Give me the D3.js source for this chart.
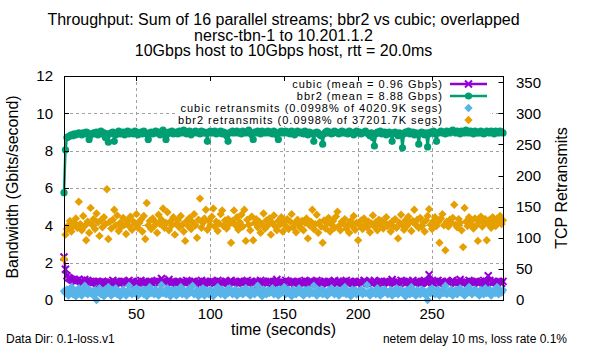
<!DOCTYPE html>
<html>
<head>
<meta charset="utf-8">
<script src="https://cdn.jsdelivr.net/npm/d3@7"></script>
<style>
  body { margin: 0; background: #fff; }
  svg { display: block; font-family: "Liberation Sans", Arial, sans-serif; }
</style>
</head>
<body>
<svg id="chart" width="600" height="350"></svg>
<script>
// ---- data ----
const titleLines = [
    "Throughput: Sum of 16 parallel streams; bbr2 vs cubic; overlapped",
    "nersc-tbn-1 to 10.201.1.2",
    "10Gbps host to 10Gbps host, rtt = 20.0ms"
];
const legendLabels = [
    "cubic (mean = 0.96 Gbps)",
    "bbr2 (mean = 8.88 Gbps)",
    "cubic retransmits (0.0998% of 4020.9K segs)",
    "bbr2 retransmits (0.0998% of 37201.7K segs)"
];
const xTicks = [50, 100, 150, 200, 250];
const yTicks = [0, 2, 4, 6, 8, 10, 12];
const y2Ticks = [0, 50, 100, 150, 200, 250, 300, 350];

// one sample per second, t = 1 .. 298
const seconds = d3.range(1, 299);

// cubic throughput, Gbits/s
const cubicGbps = [
    2.3, 1.65, 1.3, 1.2, 1.15, 1.1, 1.05, 1.1, 1.0, 1.05, 1.1, 1.0, 1.05, 0.95, 1.1, 1.0, 1.05, 0.95, 1.0, 0.9,
    1.0, 0.95, 0.9, 1.0, 0.85, 0.95, 1.0, 0.9, 0.95, 0.85, 1.0, 0.95, 0.9, 1.05, 0.95, 0.9, 1.0, 0.95, 0.85, 1.0,
    0.95, 1.0, 0.9, 0.95, 1.05, 0.9, 0.95, 1.0, 0.85, 0.95, 1.0, 0.9, 1.05, 0.95, 0.9, 1.0, 0.95, 0.9, 1.0, 0.95,
    0.9, 1.0, 0.95, 1.05, 0.9, 0.95, 1.15, 1.0, 0.95, 0.9, 1.0, 1.1, 0.95, 0.9, 1.0, 0.95, 0.85, 1.0, 0.95, 0.9,
    1.0, 0.95, 0.9, 1.05, 0.95, 1.0, 0.9, 0.95, 1.0, 0.85, 0.95, 1.0, 0.9, 1.05, 0.95, 0.9, 1.0, 0.95, 0.9, 1.0,
    0.95, 1.0, 0.9, 0.95, 1.05, 0.9, 1.0, 0.95, 0.85, 1.0, 0.95, 0.9, 1.0, 1.05, 0.95, 0.9, 1.0, 0.95, 0.9, 1.0,
    0.95, 0.9, 1.0, 0.95, 1.05, 0.9, 0.95, 1.0, 0.9, 0.95, 1.0, 0.85, 0.95, 1.05, 0.9, 1.0, 0.95, 0.9, 1.0, 0.95,
    1.0, 0.9, 0.95, 1.0, 1.1, 0.95, 0.9, 1.0, 0.95, 0.9, 1.05, 0.95, 1.0, 0.9, 0.95, 1.0, 0.85, 0.95, 1.0, 0.9,
    0.95, 1.0, 0.9, 1.05, 0.95, 0.9, 1.0, 0.95, 1.0, 0.9, 0.95, 1.05, 0.9, 1.0, 0.95, 0.9, 1.0, 0.95, 0.85, 1.0,
    0.95, 0.9, 1.0, 1.05, 0.95, 0.9, 1.0, 0.95, 0.9, 1.0, 0.95, 1.05, 0.9, 0.95, 1.0, 0.9, 0.95, 1.0, 0.9, 0.95,
    1.0, 0.95, 0.9, 1.05, 1.0, 0.9, 0.95, 1.0, 0.9, 0.95, 1.05, 0.95, 0.9, 1.0, 0.95, 1.0, 0.9, 0.95, 1.0, 0.9,
    0.95, 1.0, 1.1, 0.95, 0.9, 1.0, 0.95, 0.9, 1.05, 0.95, 1.0, 0.9, 0.95, 1.0, 0.9, 0.95, 1.05, 0.95, 0.9, 1.0,
    0.95, 0.9, 1.0, 0.95, 1.05, 0.95, 0.9, 1.35, 1.0, 0.95, 0.9, 1.0, 0.95, 1.05, 0.9, 0.95, 1.0, 0.9, 0.95, 1.0,
    0.95, 0.9, 1.0, 1.05, 0.95, 0.9, 1.0, 0.95, 1.1, 0.95, 0.9, 1.0, 0.95, 0.9, 1.05, 0.95, 1.0, 0.9, 0.95, 1.0,
    0.9, 0.95, 1.0, 0.95, 1.05, 0.9, 1.0, 1.3, 1.05, 0.95, 0.9, 1.0, 0.95, 0.9, 1.0, 0.95, 0.9, 1.0
];

// bbr2 throughput, Gbits/s
const bbr2Gbps = [
    5.75, 8.05, 8.7, 8.75, 8.8, 8.85, 8.8, 8.9, 8.85, 8.9, 8.95, 8.9, 8.85, 8.95, 8.9, 9.0, 8.95, 8.6, 8.85, 8.9,
    8.95, 8.9, 9.0, 8.85, 8.95, 9.05, 8.9, 8.95, 8.7, 8.9, 8.45, 8.9, 8.95, 9.0, 8.5, 8.85, 8.95, 9.05, 8.9, 8.95,
    9.0, 8.85, 8.95, 9.05, 8.9, 9.0, 8.95, 8.9, 9.05, 9.0, 8.85, 8.95, 9.0, 8.9, 9.05, 8.95, 8.9, 8.6, 8.95, 9.0,
    8.9, 8.95, 9.05, 8.95, 9.0, 8.85, 8.9, 9.1, 8.95, 8.6, 8.9, 9.0, 8.95, 9.05, 8.9, 8.95, 9.0, 8.9, 9.05, 8.95,
    9.0, 9.1, 8.95, 8.9, 9.0, 9.05, 8.85, 8.95, 9.0, 9.05, 8.95, 9.0, 8.9, 9.05, 8.95, 9.0, 8.95, 8.5, 9.0, 9.05,
    8.95, 9.0, 9.05, 8.9, 9.0, 8.95, 9.05, 8.9, 9.0, 8.95, 8.8, 8.5, 8.95, 9.0, 9.05, 8.95, 9.0, 9.05, 8.95, 9.0,
    8.9, 9.05, 9.0, 8.95, 9.0, 9.1, 8.95, 8.85, 8.6, 9.0, 8.95, 9.05, 9.0, 8.9, 9.05, 9.0, 8.95, 9.0, 9.05, 8.95,
    9.0, 8.9, 9.05, 8.95, 8.85, 8.6, 9.0, 9.05, 8.95, 9.0, 9.05, 8.95, 9.0, 8.9, 9.05, 9.0, 8.85, 8.95, 9.05, 9.0,
    8.95, 9.0, 8.9, 9.05, 8.95, 8.85, 9.0, 8.95, 8.9, 8.5, 8.95, 9.0, 8.95, 8.85, 8.8, 8.35, 8.9, 9.0, 9.05, 8.95,
    9.0, 8.9, 8.95, 9.05, 9.0, 8.95, 8.9, 9.0, 9.05, 8.95, 9.0, 8.95, 8.9, 9.05, 9.0, 8.95, 8.85, 9.0, 9.05, 8.95,
    9.0, 8.9, 8.95, 9.0, 9.05, 8.95, 8.9, 8.8, 8.95, 8.7, 8.25, 8.9, 9.0, 8.95, 9.05, 8.9, 8.95, 9.0, 8.85, 8.95,
    9.0, 8.9, 8.5, 8.95, 9.0, 8.9, 8.8, 8.95, 8.85, 8.15, 8.9, 9.0, 8.95, 9.05, 8.9, 8.95, 9.0, 8.85, 8.95, 8.9,
    8.35, 8.95, 9.0, 8.9, 8.85, 8.95, 8.2, 8.9, 9.0, 8.95, 9.05, 8.9, 8.5, 8.95, 9.0, 9.05, 8.95, 9.0, 8.9, 9.05,
    9.0, 8.95, 9.05, 9.1, 9.0, 8.95, 9.05, 9.0, 8.9, 9.05, 9.0, 8.95, 9.1, 9.0, 8.95, 9.05, 9.0, 8.9, 9.05, 8.95,
    9.0, 8.95, 9.05, 9.0, 8.9, 8.95, 9.05, 9.0, 8.95, 9.05, 9.0, 8.9, 9.05, 9.0, 8.95, 9.05, 9.0, 8.95
];

// retransmits per second (right axis)
const cubicRetrans = [
    14, 11, 17, 7, 12, 21, 9, 16, 6, 14, 19, 11, 7, 16, 23, 12, 9, 17, 11, 14,
    7, 16, 0, 12, 19, 9, 14, 6, 17, 11, 21, 12, 7, 16, 11, 19, 9, 14, 6, 12,
    17, 11, 7, 14, 23, 12, 9, 16, 11, 19, 7, 14, 12, 17, 9, 16, 6, 12, 21, 11,
    14, 9, 17, 12, 7, 16, 24, 11, 14, 9, 19, 12, 6, 16, 11, 17, 7, 14, 12, 21,
    9, 16, 12, 7, 17, 11, 14, 23, 9, 12, 16, 6, 14, 11, 19, 7, 16, 12, 9, 17,
    12, 6, 16, 11, 21, 14, 9, 17, 12, 7, 16, 11, 19, 14, 9, 12, 17, 7, 14, 11,
    16, 9, 12, 19, 11, 14, 7, 17, 12, 9, 16, 23, 11, 14, 6, 17, 12, 9, 16, 11,
    14, 19, 9, 12, 16, 7, 17, 11, 14, 21, 9, 12, 16, 11, 6, 17, 14, 9, 12, 19,
    11, 14, 7, 16, 12, 17, 9, 14, 11, 23, 12, 7, 16, 11, 17, 9, 14, 12, 7, 16,
    11, 19, 12, 9, 14, 17, 7, 12, 16, 11, 21, 9, 14, 12, 6, 17, 11, 16, 9, 14,
    12, 17, 9, 14, 11, 24, 12, 7, 16, 11, 14, 9, 19, 12, 7, 16, 11, 17, 14, 9,
    12, 16, 7, 14, 11, 19, 9, 12, 17, 11, 14, 6, 16, 12, 9, 21, 11, 14, 7, 16,
    12, 9, 17, 11, 14, 7, 0, 16, 11, 19, 12, 9, 14, 17, 7, 12, 16, 11, 23, 9,
    14, 11, 17, 7, 12, 16, 9, 14, 19, 11, 12, 7, 16, 11, 21, 14, 9, 12, 17, 11,
    14, 7, 16, 12, 9, 19, 11, 14, 17, 7, 12, 16, 11, 21, 9, 14, 12, 16
];

const bbr2Retrans = [
    66, 105, 114, 120, 127, 110, 118, 124, 131, 116, 158, 122, 112, 135, 119, 96, 126, 108, 148, 121,
    130, 114, 139, 125, 103, 128, 117, 133, 122, 178, 98, 126, 115, 129, 145, 120, 136, 111, 124, 118,
    132, 121, 106, 127, 119, 134, 113, 126, 122, 138, 116, 124, 129, 110, 135, 98, 156, 120, 127, 114,
    131, 119, 125, 108, 137, 122, 129, 147, 116, 124, 141, 112, 126, 120, 133, 105, 122, 128, 117, 135,
    121, 110, 95, 127, 119, 132, 114, 125, 138, 120, 100, 129, 163, 116, 124, 131, 145, 113, 127, 120,
    134, 147, 118, 126, 111, 123, 138, 144, 119, 128, 115, 130, 122, 92, 127, 144, 120, 133, 113, 125,
    137, 118, 145, 95, 129, 121, 112, 134, 96, 124, 130, 117, 126, 108, 122, 139, 115, 128, 120, 131,
    105, 124, 136, 118, 112, 127, 121, 133, 110, 125, 119, 130, 114, 126, 138, 117, 123, 109, 129, 121,
    116, 127, 112, 124, 131, 99, 120, 126, 145, 114, 122, 137, 108, 125, 118, 92, 128, 115, 123, 132,
    110, 121, 127, 116, 134, 142, 119, 112, 126, 123, 130, 115, 121, 108, 127, 119, 135, 113, 124, 96,
    120, 128, 114, 131, 122, 117, 126, 109, 123, 136, 118, 125, 112, 129, 121, 127, 115, 124, 133, 119,
    122, 110, 126, 118, 130, 116, 99, 124, 137, 120, 113, 128, 119, 134, 125, 111, 127, 145, 121, 129,
    116, 132, 118, 124, 110, 128, 135, 146, 121, 114, 127, 133, 119, 125, 92, 131, 138, 120, 80, 126,
    118, 129, 124, 132, 153, 121, 117, 130, 124, 112, 85, 148, 126, 119, 133, 122, 128, 115, 131, 120,
    95, 127, 134, 118, 125, 130, 96, 122, 129, 116, 133, 124, 119, 131, 127, 135, 122, 128
];

// ---- layout ----
const svg = d3.select("#chart");
const plot = { left: 64, right: 503, top: 76, bottom: 300 };

const x = d3.scaleLinear().domain( [1, 298] ).range( [plot.left, plot.right] );
const y = d3.scaleLinear().domain( [0, 12] ).range( [plot.bottom, plot.top] );
const y2 = d3.scaleLinear().domain( [0, 360] ).range( [plot.bottom, plot.top] );

const colours = { cubic: "#9400d3", bbr2: "#009e73", cubicRe: "#56b4e9", bbr2Re: "#e69f00" };

// grid
const grid = svg.append("g")
    .attr("stroke", "#a0a0a0")
    .attr("stroke-width", 1)
    .attr("stroke-dasharray", "3,3");
grid.selectAll(".gx")
    .data(xTicks)
    .enter().append("line")
        .attr("x1", d => Math.round(x(d)) + 0.5).attr("x2", d => Math.round(x(d)) + 0.5)
        .attr("y1", plot.top).attr("y2", plot.bottom);
grid.selectAll(".gy")
    .data(yTicks.filter(d => d > 0 && d < 12))
    .enter().append("line")
        .attr("x1", plot.left).attr("x2", plot.right)
        .attr("y1", d => Math.round(y(d)) + 0.5).attr("y2", d => Math.round(y(d)) + 0.5);

// series
const cross = "M-3.5,-3.5L3.5,3.5M-3.5,3.5L3.5,-3.5";
const diamond = "M0,-4.2L4.2,0L0,4.2L-4.2,0Z";

function drawLineSeries(values, colour, marker) {
    const g = svg.append("g");
    const line = d3.line()
        .x((d, i) => x(seconds[i]))
        .y(d => y(d));
    g.append("path")
        .datum(values)
        .attr("d", line)
        .attr("fill", "none")
        .attr("stroke", colour)
        .attr("stroke-width", 2.5)
        .attr("stroke-linejoin", "round");
    if ( marker === "cross" ) {
        g.selectAll("path.pt")
            .data(values)
            .enter().append("path")
                .attr("class", "pt")
                .attr("transform", (d, i) => `translate(${x(seconds[i])},${y(d)})`)
                .attr("d", cross)
                .attr("stroke", colour)
                .attr("stroke-width", 2);
    } else {
        g.selectAll("circle")
            .data(values)
            .enter().append("circle")
                .attr("cx", (d, i) => x(seconds[i]))
                .attr("cy", d => y(d))
                .attr("r", 3.6)
                .attr("fill", colour);
    }
}

function drawPointSeries(values, colour) {
    svg.append("g").selectAll("path")
        .data(values)
        .enter().append("path")
            .attr("transform", (d, i) => `translate(${x(seconds[i])},${y2(d)})`)
            .attr("d", diamond)
            .attr("fill", colour);
}

drawLineSeries(cubicGbps, colours.cubic, "cross");
drawLineSeries(bbr2Gbps, colours.bbr2, "circle");
drawPointSeries(cubicRetrans, colours.cubicRe);
drawPointSeries(bbr2Retrans, colours.bbr2Re);

// key (opaque, top right)
const keyRows = [84, 96, 108, 120];
const keyTextEnd = 443;
const key = svg.append("g");
const keyBox = key.append("rect").attr("fill", "#fff");
const keyTexts = key.selectAll("text")
    .data(legendLabels)
    .enter().append("text")
        .attr("x", keyTextEnd)
        .attr("y", (d, i) => keyRows[i])
        .attr("dy", "0.35em")
        .attr("text-anchor", "end")
        .attr("font-size", "11px")
        .attr("letter-spacing", "1px")
        .text(d => d);
let keyWidth = 0;
keyTexts.each(function() { keyWidth = Math.max(keyWidth, this.getComputedTextLength()); });
keyBox.attr("x", keyTextEnd - keyWidth - 3).attr("y", 77)
    .attr("width", 492 - (keyTextEnd - keyWidth - 3)).attr("height", 49);

const sampleX = [450, 487];
const markX = 468.5;
key.append("line").attr("x1", sampleX[0]).attr("x2", sampleX[1])
    .attr("y1", keyRows[0]).attr("y2", keyRows[0])
    .attr("stroke", colours.cubic).attr("stroke-width", 2.5);
key.append("path").attr("d", "M-3.5,-3.5L3.5,3.5M-3.5,3.5L3.5,-3.5")
    .attr("transform", `translate(${markX},${keyRows[0]})`)
    .attr("stroke", colours.cubic).attr("stroke-width", 2);
key.append("line").attr("x1", sampleX[0]).attr("x2", sampleX[1])
    .attr("y1", keyRows[1]).attr("y2", keyRows[1])
    .attr("stroke", colours.bbr2).attr("stroke-width", 2.5);
key.append("circle").attr("cx", markX).attr("cy", keyRows[1]).attr("r", 3.6)
    .attr("fill", colours.bbr2);
key.append("path").attr("d", diamond)
    .attr("transform", `translate(${markX},${keyRows[2]})`)
    .attr("fill", colours.cubicRe);
key.append("path").attr("d", diamond)
    .attr("transform", `translate(${markX},${keyRows[3]})`)
    .attr("fill", colours.bbr2Re);

// border and ticks
svg.append("rect")
    .attr("x", plot.left + 0.5).attr("y", plot.top + 0.5)
    .attr("width", plot.right - plot.left).attr("height", plot.bottom - plot.top)
    .attr("fill", "none").attr("stroke", "#000").attr("stroke-width", 1);

const ticks = svg.append("g").attr("stroke", "#000").attr("stroke-width", 1);
yTicks.forEach(d => {
    const yy = Math.round(y(d)) + 0.5;
    ticks.append("line").attr("x1", plot.left).attr("x2", plot.left + 5).attr("y1", yy).attr("y2", yy);
});
y2Ticks.forEach(d => {
    const yy = Math.round(y2(d)) + 0.5;
    ticks.append("line").attr("x1", plot.right + 0.5).attr("x2", plot.right - 4.5).attr("y1", yy).attr("y2", yy);
});
xTicks.forEach(d => {
    const xx = Math.round(x(d)) + 0.5;
    ticks.append("line").attr("x1", xx).attr("x2", xx).attr("y1", plot.bottom + 0.5).attr("y2", plot.bottom - 4.5);
    ticks.append("line").attr("x1", xx).attr("x2", xx).attr("y1", plot.top).attr("y2", plot.top + 5);
});

// tick labels
const labels = svg.append("g").attr("font-size", "15px").attr("fill", "#000");
labels.selectAll(".yl")
    .data(yTicks)
    .enter().append("text")
        .attr("x", 53)
        .attr("y", d => y(d))
        .attr("dy", "0.36em")
        .attr("text-anchor", "end")
        .text(d => d);
labels.selectAll(".y2l")
    .data(y2Ticks)
    .enter().append("text")
        .attr("x", 516)
        .attr("y", d => y2(d))
        .attr("dy", "0.36em")
        .attr("text-anchor", "start")
        .text(d => d);
labels.selectAll(".xl")
    .data(xTicks)
    .enter().append("text")
        .attr("x", d => x(d))
        .attr("y", 319)
        .attr("text-anchor", "middle")
        .text(d => d);

// axis titles
const midX = (plot.left + plot.right) / 2;
svg.append("text")
    .attr("x", midX).attr("y", 335)
    .attr("text-anchor", "middle").attr("font-size", "16px")
    .text("time (seconds)");
svg.append("text")
    .attr("transform", "translate(18,187) rotate(-90)")
    .attr("text-anchor", "middle").attr("font-size", "16px")
    .text("Bandwidth (Gbits/second)");
svg.append("text")
    .attr("transform", "translate(567,188) rotate(-90)")
    .attr("text-anchor", "middle").attr("font-size", "16px")
    .text("TCP Retransmits");

// title
svg.append("g").selectAll("text")
    .data(titleLines)
    .enter().append("text")
        .attr("x", midX)
        .attr("y", (d, i) => 25 + i * 15.5)
        .attr("text-anchor", "middle")
        .attr("font-size", "16px")
        .text(d => d);

// footer notes
svg.append("text")
    .attr("x", 6).attr("y", 343)
    .attr("font-size", "12px")
    .text("Data Dir: 0.1-loss.v1");
svg.append("text")
    .attr("x", 567).attr("y", 343)
    .attr("text-anchor", "end")
    .attr("font-size", "12px")
    .text("netem delay 10 ms, loss rate 0.1%");
</script>
</body>
</html>
